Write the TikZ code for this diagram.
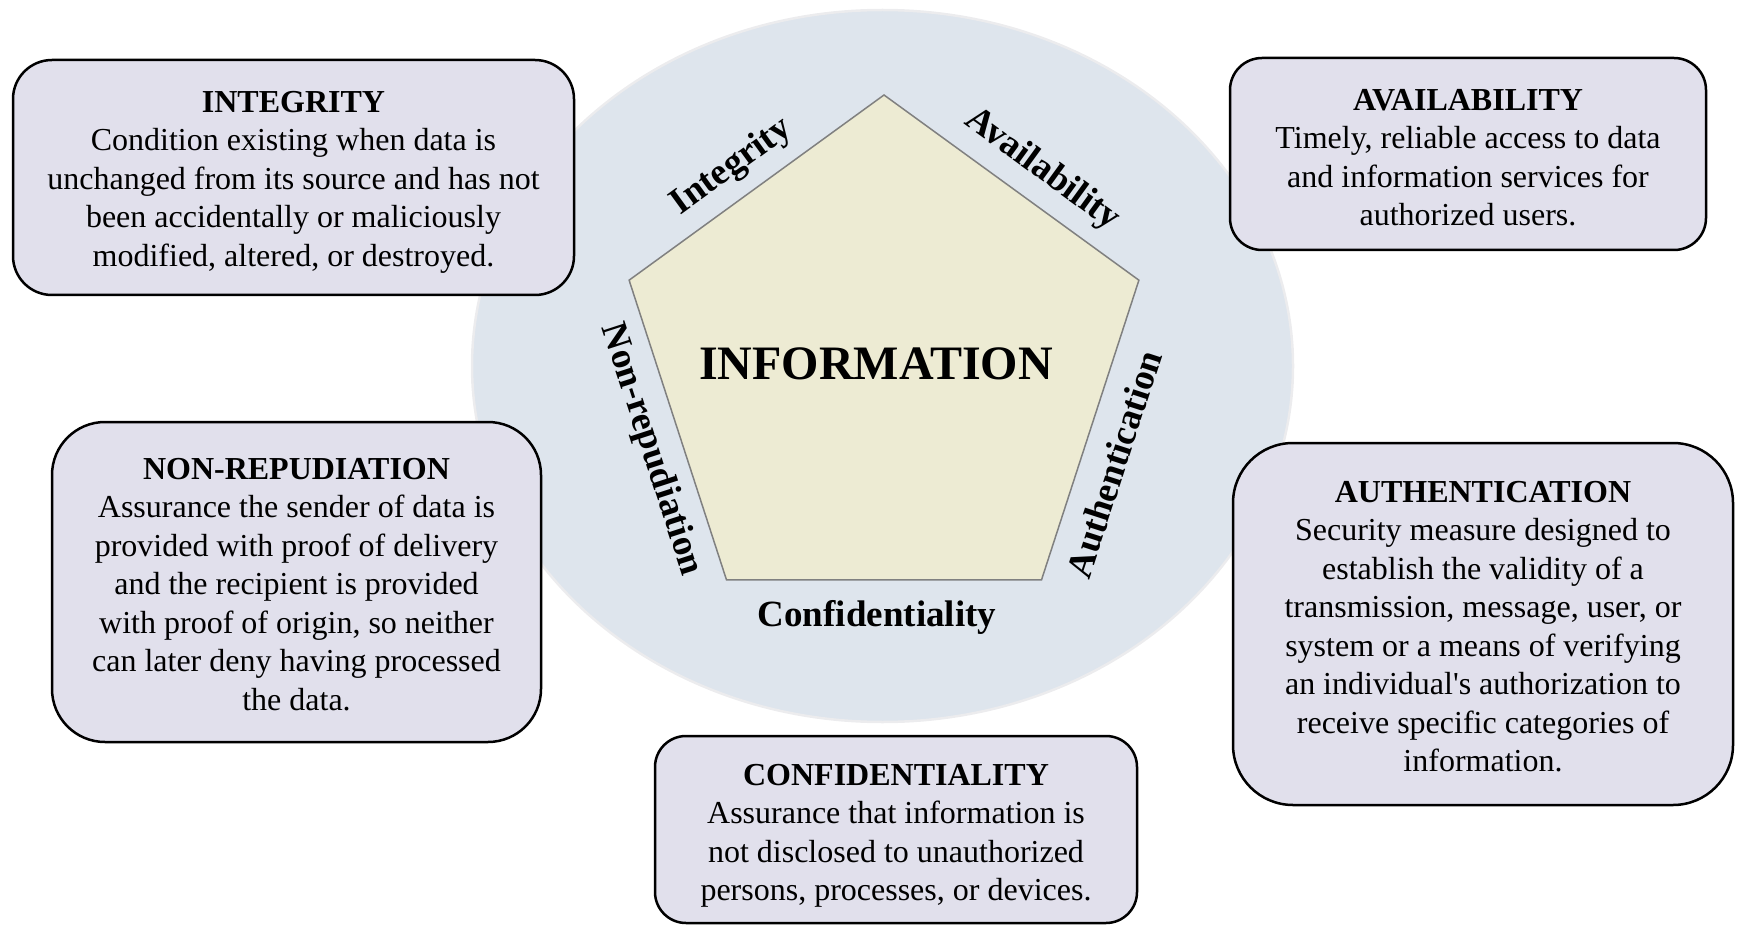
\documentclass[tikz,border=0pt]{standalone}
\usepackage{fontspec}
\setmainfont{Liberation Serif}[Ligatures=TeXOff]
\usetikzlibrary{shapes.geometric}
\definecolor{ringfill}{RGB}{222,229,237}
\definecolor{ringedge}{RGB}{236,236,238}
\definecolor{pentfill}{RGB}{237,235,211}
\definecolor{pentedge}{RGB}{128,128,128}
\definecolor{boxfill}{RGB}{225,224,236}
\begin{document}
\begin{tikzpicture}[x=1pt,y=-1pt,
  infobox/.style={draw=black, line width=2.5pt, fill=boxfill, inner sep=0pt},
  infotxt/.style={align=center, inner sep=0pt, font=\fontsize{32}{38.5}\selectfont},
  edgelabel/.style={font=\fontsize{37}{41}\selectfont\bfseries, inner sep=0pt},
]
\useasboundingbox (0,0) rectangle (1737,925);

% background ring
\node[ellipse, fill=ringfill, draw=ringedge, line width=2.5pt,
  minimum width=821pt, minimum height=712pt, inner sep=0pt] (ring) at (882.5,366) {};

% pentagon
\node[regular polygon, regular polygon sides=5, minimum size=536pt,
  fill=pentfill, draw=pentedge, line width=1.5pt, inner sep=0pt] (pent) at (884,363) {};
\node[font=\fontsize{48}{56}\selectfont\bfseries, inner sep=0pt] (infotext) at (876,363.5) {INFORMATION};

% edge labels
\node[edgelabel, rotate=36] (lintegrity) at (732,167) {Integrity};
\node[edgelabel, rotate=-36] (lavail) at (1042,170) {Availability};
\node[edgelabel, rotate=72] (lauth) at (1114,464) {Authentication};
\node[edgelabel, rotate=-72] (lnonrep) at (651,450) {Non-repudiation};
\node[edgelabel] (lconf) at (877,617) {Confidentiality};

% info boxes
\node[infobox, minimum width=561pt, minimum height=235pt, rounded corners=39pt]
  (integrity) at (293.5,177.5) {};
\node[infotxt] (integrity-txt) at (293.5,182)
  {\textbf{INTEGRITY}\\Condition existing when data is\\unchanged from its source and has not\\been accidentally or maliciously\\modified, altered, or destroyed.};

\node[infobox, minimum width=476pt, minimum height=192pt, rounded corners=32pt]
  (availability) at (1468,154) {};
\node[infotxt] (availability-txt) at (1468,157.5)
  {\textbf{AVAILABILITY}\\Timely, reliable access to data\\and information services for\\authorized users.};

\node[infobox, minimum width=489pt, minimum height=320pt, rounded corners=53pt]
  (nonrep) at (296.5,582) {};
\node[infotxt] (nonrep-txt) at (296.5,584.5)
  {\textbf{NON-REPUDIATION}\\Assurance the sender of data is\\provided with proof of delivery\\and the recipient is provided\\with proof of origin, so neither\\can later deny having processed\\the data.};

\node[infobox, minimum width=500pt, minimum height=362pt, rounded corners=60pt]
  (authentication) at (1483,624) {};
\node[infotxt] (authentication-txt) at (1483,626.5)
  {\textbf{AUTHENTICATION}\\Security measure designed to\\establish the validity of a\\transmission, message, user, or\\system or a means of verifying\\an individual's authorization to\\receive specific categories of\\information.};

\node[infobox, minimum width=482pt, minimum height=187pt, rounded corners=31pt]
  (confidentiality) at (896,829.5) {};
\node[infotxt] (confidentiality-txt) at (896,836)
  {\textbf{CONFIDENTIALITY}\\Assurance that information is\\not disclosed to unauthorized\\persons, processes, or devices.};
\end{tikzpicture}
\end{document}
